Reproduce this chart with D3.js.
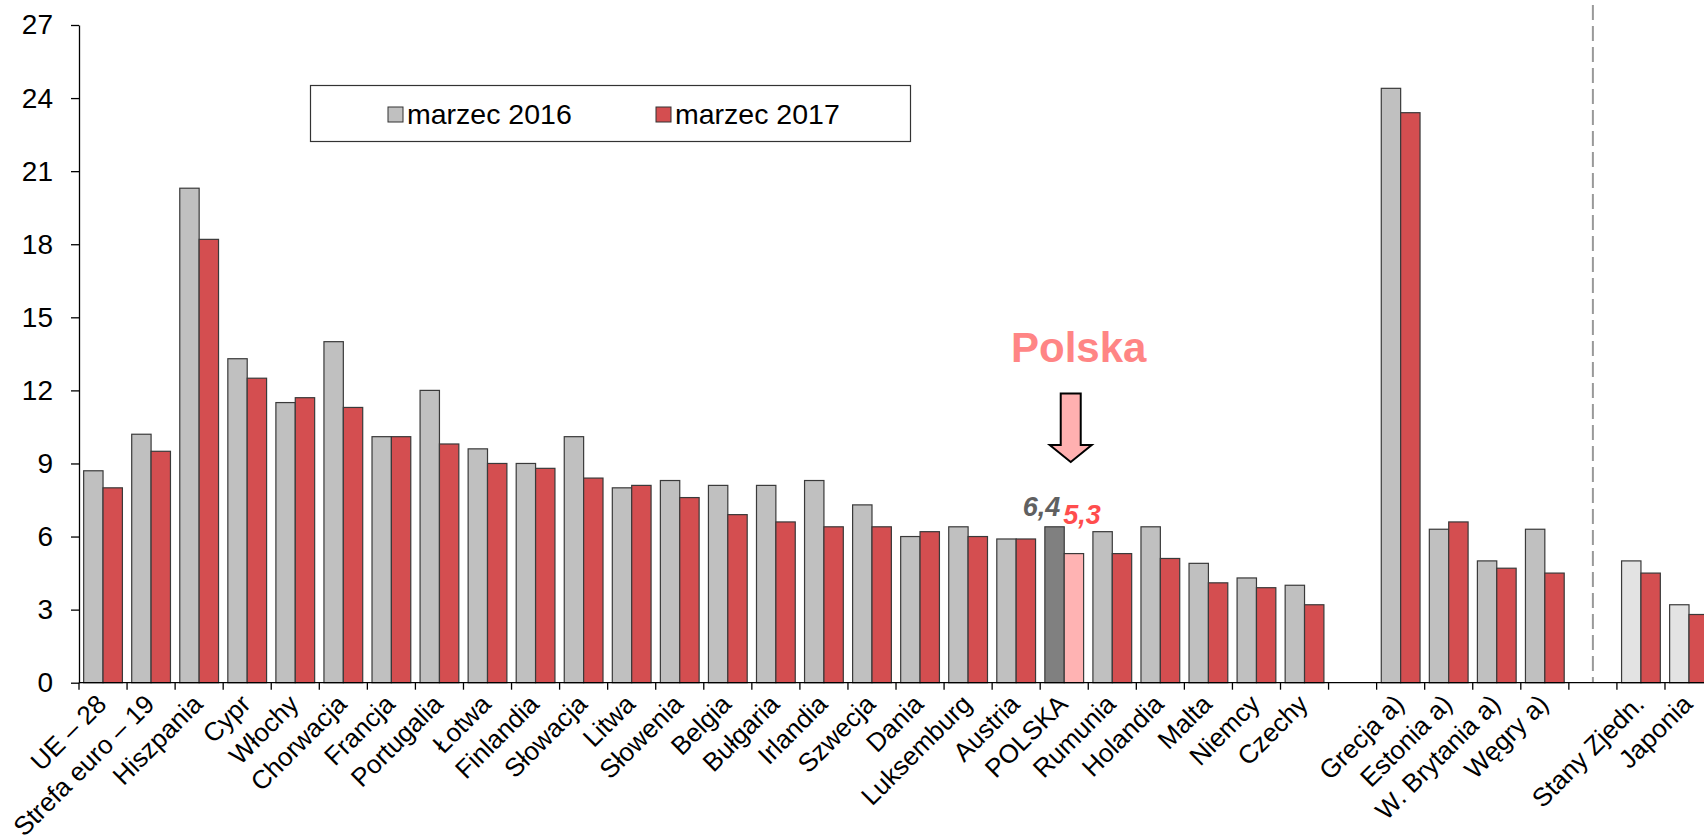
<!DOCTYPE html>
<html>
<head>
<meta charset="utf-8">
<script src="https://cdn.jsdelivr.net/npm/d3@7/dist/d3.min.js"></script>
<style>
  html, body { margin: 0; padding: 0; background: #fff; }
  svg { display: block; font-family: "Liberation Sans", Arial, sans-serif; }
</style>
</head>
<body>
<svg id="chart" width="1704" height="839"></svg>
<script>
// ---- data ----
const categories = ["UE – 28","Strefa euro – 19","Hiszpania","Cypr","Włochy","Chorwacja","Francja","Portugalia","Łotwa","Finlandia","Słowacja","Litwa","Słowenia","Belgia","Bułgaria","Irlandia","Szwecja","Dania","Luksemburg","Austria","POLSKA","Rumunia","Holandia","Malta","Niemcy","Czechy","_gap1","Grecja a)","Estonia a)","W. Brytania a)","Węgry a)","_gap2","Stany Zjedn.","Japonia"];
const values2016 = [8.7,10.2,20.3,13.3,11.5,14.0,10.1,12.0,9.6,9.0,10.1,8.0,8.3,8.1,8.1,8.3,7.3,6.0,6.4,5.9,6.4,6.2,6.4,4.9,4.3,4.0,null,24.4,6.3,5.0,6.3,null,5.0,3.2];
const values2017 = [8.0,9.5,18.2,12.5,11.7,11.3,10.1,9.8,9.0,8.8,8.4,8.1,7.6,6.9,6.6,6.4,6.4,6.2,6.0,5.9,5.3,5.3,5.1,4.1,3.9,3.2,null,23.4,6.6,4.7,4.5,null,4.5,2.8];
const seriesNames = ["marzec 2016","marzec 2017"];
const yTicks = [0,3,6,9,12,15,18,21,24,27];
const highlight = "POLSKA";
const nonEU = ["Stany Zjedn.","Japonia"];

// ---- layout ----
const svg = d3.select("#chart");
const font = '"Liberation Sans", Arial, sans-serif';
const x0 = 79, step = 48.06;
const x = d3.scaleBand().domain(categories).range([x0, x0 + step * categories.length]).paddingInner(0).paddingOuter(0);
const xs = d3.scaleBand().domain([0,1]).range([0, x.bandwidth()]).paddingInner(0).paddingOuter(0.24);
const y = d3.scaleLinear().domain([0, 27]).range([682.7, 25]);

const colors2016 = d => d === highlight ? "#808080" : (nonEU.includes(d) ? "#E3E3E3" : "#C0C0C0");
const colors2017 = d => d === highlight ? "#FFB3B3" : "#D44E50";

// dashed separator in the middle of the second gap
svg.append("line")
  .attr("x1", x("_gap2") + x.bandwidth()/2).attr("x2", x("_gap2") + x.bandwidth()/2)
  .attr("y1", 5).attr("y2", y(0))
  .attr("stroke", "#999").attr("stroke-width", 2).attr("stroke-dasharray", "15,6");

// bars
const groups = svg.append("g").selectAll("g")
  .data(categories.map((c, i) => ({c, v: [values2016[i], values2017[i]]})).filter(d => d.v[0] !== null))
  .join("g").attr("transform", d => `translate(${x(d.c)},0)`);
groups.selectAll("rect").data(d => d.v.map((v, j) => ({c: d.c, v, j})))
  .join("rect")
  .attr("x", d => xs(d.j)).attr("width", xs.bandwidth())
  .attr("y", d => y(d.v)).attr("height", d => y(0) - y(d.v))
  .attr("fill", d => d.j === 0 ? colors2016(d.c) : colors2017(d.c))
  .attr("stroke", "#3a3a3a").attr("stroke-width", 1.2);

// y axis
const yAxis = svg.append("g").attr("transform", `translate(${x0},0)`)
  .call(d3.axisLeft(y).tickValues(yTicks).tickSize(8).tickSizeOuter(0).tickPadding(18).tickFormat(d3.format("d")));
yAxis.selectAll("text").attr("font-size", 28).attr("font-family", font).attr("fill", "#000");
yAxis.selectAll("line,path").attr("stroke", "#000").attr("stroke-width", 1.3);

// x axis line + ticks at band boundaries
svg.append("line").attr("x1", x0).attr("x2", 1704).attr("y1", y(0)).attr("y2", y(0))
  .attr("stroke", "#000").attr("stroke-width", 1.3);
svg.append("g").selectAll("line").data(categories).join("line")
  .attr("x1", d => x(d)).attr("x2", d => x(d))
  .attr("y1", y(0)).attr("y2", y(0) + 7)
  .attr("stroke", "#000").attr("stroke-width", 1.3);

// x labels
svg.append("g").selectAll("text").data(categories.filter(c => !c.startsWith("_"))).join("text")
  .attr("transform", d => `translate(${x(d) + x.bandwidth()/2 + 5},${y(0) + 23}) rotate(-45)`)
  .attr("text-anchor", "end")
  .attr("font-size", 26).attr("font-family", font).attr("fill", "#000")
  .text(d => d);

// legend
const lg = svg.append("g");
lg.append("rect").attr("x", 310.5).attr("y", 85.5).attr("width", 600).attr("height", 56)
  .attr("fill", "#fff").attr("stroke", "#333").attr("stroke-width", 1.2);
const legendX = [388, 656];
seriesNames.forEach((s, i) => {
  lg.append("rect").attr("x", legendX[i]).attr("y", 107).attr("width", 15).attr("height", 15)
    .attr("fill", i === 0 ? "#C0C0C0" : "#D44E50").attr("stroke", "#333").attr("stroke-width", 1);
  lg.append("text").attr("x", legendX[i] + 19).attr("y", 124).attr("font-size", 28.5)
    .attr("font-family", font).attr("fill", "#000").text(s);
});

// Polska annotation
const pi = categories.indexOf(highlight);
const px = x(highlight);
svg.append("text").attr("x", px + xs(0) + xs.bandwidth() - 4).attr("y", y(values2016[pi]) - 11)
  .attr("text-anchor", "end").attr("font-size", 27).attr("font-weight", "bold").attr("font-style", "italic")
  .attr("fill", "#606060").attr("font-family", font)
  .text(String(values2016[pi]).replace(".", ","));
svg.append("text").attr("x", px + xs(1) - 1).attr("y", y(values2017[pi]) - 30)
  .attr("text-anchor", "start").attr("font-size", 27).attr("font-weight", "bold").attr("font-style", "italic")
  .attr("fill", "#FF4D4D").attr("font-family", font)
  .text(String(values2017[pi]).replace(".", ","));

const ax = px + xs(1) + 6.5; // arrow centre
const arrowPath = d3.path();
arrowPath.moveTo(ax - 10, 393.5);
arrowPath.lineTo(ax + 10, 393.5);
arrowPath.lineTo(ax + 10, 445);
arrowPath.lineTo(ax + 21, 445);
arrowPath.lineTo(ax, 462);
arrowPath.lineTo(ax - 21, 445);
arrowPath.lineTo(ax - 10, 445);
arrowPath.closePath();
svg.append("path").attr("d", arrowPath.toString())
  .attr("fill", "#FFB0B0").attr("stroke", "#000").attr("stroke-width", 2).attr("stroke-linejoin", "miter");

svg.append("text").attr("x", ax + 8).attr("y", 362).attr("text-anchor", "middle")
  .attr("font-size", 42).attr("font-weight", "bold").attr("fill", "#FF8585").attr("font-family", font)
  .text("Polska");
</script>
</body>
</html>
